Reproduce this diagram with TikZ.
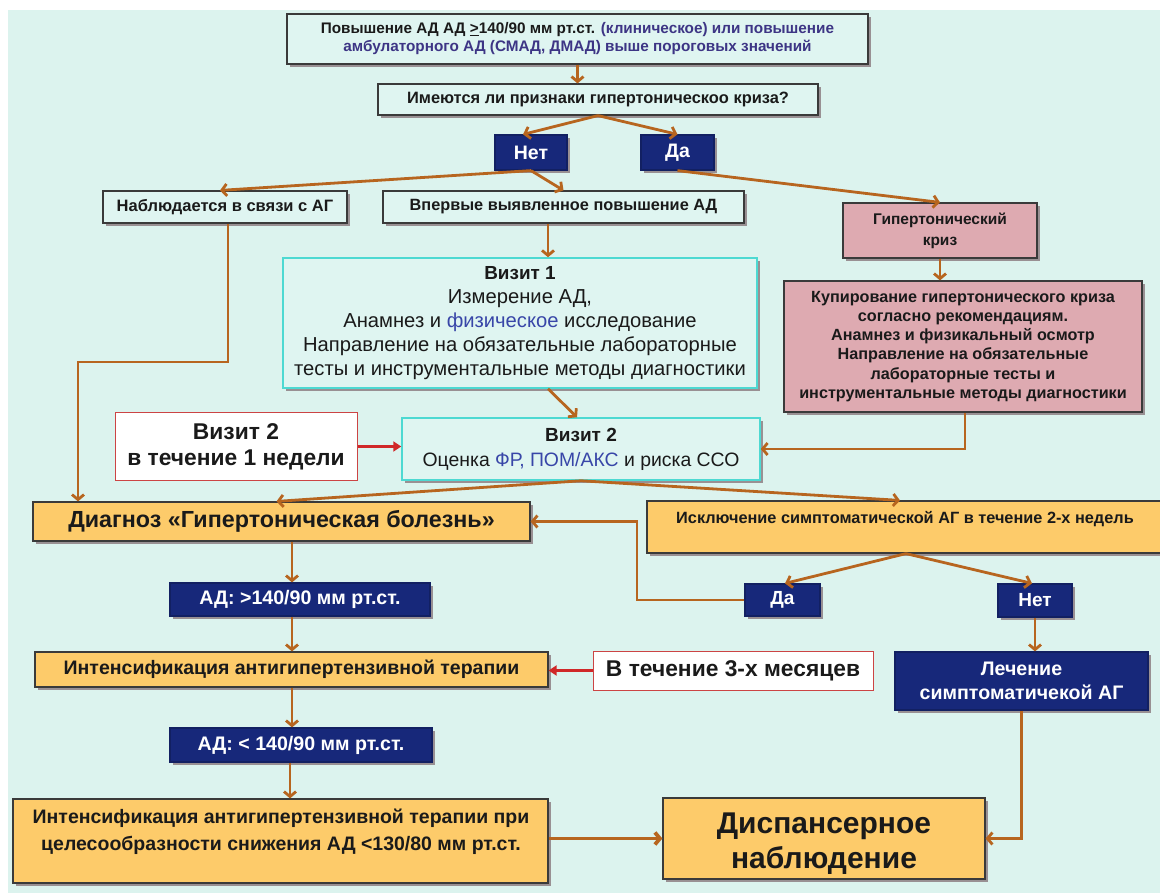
\documentclass[tikz,border=0pt]{standalone}
\usepackage{fontspec}
\setmainfont{Liberation Sans}
\usetikzlibrary{arrows.meta,shadows,calc}
\definecolor{bg}{HTML}{DCF3EE}
\definecolor{mint}{HTML}{DFF5F1}
\definecolor{bordc}{HTML}{3A3A3A}
\definecolor{navy}{HTML}{17287A}
\definecolor{orangef}{HTML}{FDCB6A}
\definecolor{pinkf}{HTML}{DEAAB1}
\definecolor{arrc}{HTML}{B7651F}
\definecolor{cyanc}{HTML}{4DD9D2}
\definecolor{redc}{HTML}{CC4444}
\definecolor{redarrc}{HTML}{D02828}
\definecolor{bluet}{HTML}{3846A8}
\definecolor{purp}{HTML}{3D3585}
\definecolor{txt}{HTML}{1A1A1A}
\definecolor{shadc}{HTML}{8E7F84}
\tikzset{
  box/.style={draw=bordc, line width=1.2pt, fill=mint, inner sep=0pt, align=center, text=txt,
    drop shadow={shadow xshift=3pt, shadow yshift=-3pt, fill=shadc, opacity=0.85}},
  navybox/.style={box, fill=navy, draw=navy!80!black, text=white},
  orbox/.style={box, fill=orangef},
  pinkbox/.style={box, fill=pinkf},
  cyanbox/.style={box, draw=cyanc, line width=1.5pt},
  redbox/.style={draw=redc, line width=1pt, fill=white, inner sep=0pt, align=center, text=txt},
  txtnode/.style={inner sep=0pt, align=center, text=txt},
  arr/.style={draw=arrc, line width=2.8pt, -{Straight Barb[length=5pt,width=12pt]}},
  redarr/.style={draw=redarrc, line width=3pt, -{Triangle[length=8pt,width=10pt]}},
}
\begin{document}
\begin{tikzpicture}[x=1pt,y=-1pt]
\useasboundingbox (0,0) rectangle (1160,893);
\fill[white] (0,0) rectangle (1160,893);
\fill[bg] (8,10) rectangle (1160,893);

% row 1
\node[box, minimum width=581pt, minimum height=50pt, font=\fontsize{15.3}{18}\selectfont\bfseries] (top) at (577.5,39)
 {Повышение АД АД \underline{>}140/90 мм рт.ст. {\color{purp}(клиническое) или повышение}\\
  {\color{purp}амбулаторного АД (СМАД, ДМАД) выше пороговых значений}};
\node[box, minimum width=440pt, minimum height=31pt, font=\fontsize{16.4}{18}\selectfont\bfseries] (q) at (598,99.5)
 {Имеются ли признаки гипертоническоо криза?};
\node[navybox, minimum width=72pt, minimum height=35pt, font=\fontsize{19.5}{20}\selectfont\bfseries] (net1) at (531,152.5) {Нет};
\node[navybox, minimum width=73pt, minimum height=35pt, font=\fontsize{19.5}{20}\selectfont\bfseries] (da1) at (677.5,152.5) {Да};

\node[box, minimum width=244pt, minimum height=32pt, font=\fontsize{16.5}{18}\selectfont\bfseries] (nab) at (225,207) {Наблюдается в связи с АГ};
\node[box, minimum width=361pt, minimum height=32pt, font=\fontsize{16.3}{18}\selectfont\bfseries] (vpe) at (563.5,207) {Впервые выявленное повышение АД};
\node[pinkbox, minimum width=194pt, minimum height=55pt, font=\fontsize{15.5}{21}\selectfont\bfseries] (gk) at (940,230.5) {Гипертонический\\криз};

\node[cyanbox, minimum width=474pt, minimum height=130pt, font=\fontsize{20.2}{24}\selectfont] (v1) at (520,323)
 {\textbf{\fontsize{18.9}{24}\selectfont Визит 1}\\Измерение АД,\\Анамнез и {\color{bluet}физическое} исследование\\Направление на обязательные лабораторные\\тесты и инструментальные методы диагностики};
\node[pinkbox, minimum width=358pt, minimum height=131pt, font=\fontsize{16.2}{19.2}\selectfont\bfseries] (kup) at (963,346.5)
 {Купирование гипертонического криза\\согласно рекомендациям.\\Анамнез и физикальный осмотр\\Направление на обязательные\\лабораторные тесты и\\инструментальные методы диагностики};

\node[redbox, minimum width=242pt, minimum height=67pt, font=\fontsize{22.8}{26}\selectfont\bfseries] (v2l) at (236,446.5) {Визит 2\\в течение 1 недели};
\node[cyanbox, minimum width=358pt, minimum height=62pt, font=\fontsize{19.4}{25}\selectfont] (v2) at (581,449)
 {\textbf{\fontsize{19}{25}\selectfont Визит 2}\\Оценка {\color{bluet}ФР, ПОМ/АКС} и риска ССО};

\node[orbox, minimum width=497pt, minimum height=39pt, font=\fontsize{23.3}{25}\selectfont\bfseries] (diag) at (281.5,521.5) {Диагноз «Гипертоническая болезнь»};
\node[orbox, minimum width=518pt, minimum height=52pt] (excl) at (906,527) {};
\node[txtnode, font=\fontsize{16.3}{18}\selectfont\bfseries] (excltxt) at (905,519) {Исключение симптоматической АГ в течение 2-х недель};

\node[navybox, minimum width=75pt, minimum height=32pt, font=\fontsize{19}{20}\selectfont\bfseries] (da2) at (782.5,600) {Да};
\node[navybox, minimum width=74pt, minimum height=33pt, font=\fontsize{19}{20}\selectfont\bfseries] (net2) at (1035,600.5) {Нет};
\node[navybox, minimum width=260pt, minimum height=33pt, font=\fontsize{19.6}{20}\selectfont\bfseries] (ad1) at (300,599.5) {АД: >140/90 мм рт.ст.};

\node[orbox, minimum width=513pt, minimum height=35pt, font=\fontsize{19.5}{21}\selectfont\bfseries] (int) at (291.5,669.5) {Интенсификация антигипертензивной терапии};
\node[redbox, minimum width=280pt, minimum height=39pt, font=\fontsize{22.8}{25}\selectfont\bfseries] (tri) at (733,670.5) {В течение 3-х месяцев};
\node[navybox, minimum width=253pt, minimum height=58pt, font=\fontsize{19.6}{24}\selectfont\bfseries] (lech) at (1021.5,681) {Лечение\\симптоматичекой АГ};

\node[navybox, minimum width=262pt, minimum height=34pt, font=\fontsize{19.6}{20}\selectfont\bfseries] (ad2) at (301,745) {АД: < 140/90 мм рт.ст.};

\node[orbox, minimum width=535pt, minimum height=84pt] (int2) at (280.5,841) {};
\node[txtnode, font=\fontsize{19.5}{27}\selectfont\bfseries] (int2txt) at (281,832)
 {Интенсификация антигипертензивной терапии при\\целесообразности снижения АД <130/80 мм рт.ст.};
\node[orbox, minimum width=322pt, minimum height=81pt] (disp) at (824,838.5) {};
\node[txtnode, font=\fontsize{30}{35}\selectfont\bfseries] (disptxt) at (824,844) {Диспансерное\\наблюдение};

% connectors
\coordinate (colA) at (292,0);
\coordinate (colB) at (290,0);
\coordinate (bendA) at (78,362);
\coordinate (bendB) at (637,0);
\draw[arr] (top.south) -- (top.south |- q.north);
\draw[arr] (q.south) -- ([xshift=-8pt]net1.north);
\draw[arr] (q.south) -- (da1.north);
\draw[arr] (net1.south) -- ([xshift=-5pt]nab.north);
\draw[arr] (net1.south) -- (vpe.north);
\draw[arr] (da1.south) -- (gk.north);
\draw[arr] ([xshift=-15.5pt]vpe.south) -- ([xshift=-15.5pt]vpe.south |- v1.north);
\draw[arr] (gk.south) -- (gk.south |- kup.north);
\draw[arr] ([xshift=3pt]nab.south) |- (bendA) -- (bendA |- diag.north);
\draw[arr] ([xshift=28pt]v1.south) -- ([xshift=-4pt]v2.north);
\draw[redarr] (v2l.east) -- (v2l.east -| v2.west);
\draw[arr] ([xshift=2pt]kup.south) |- (v2.east);
\draw[arr] (v2.south) -- ([xshift=-5pt]diag.north);
\draw[arr] (v2.south) -- ([xshift=-6pt]excl.north);
\draw[arr] (excl.south) -- ([xshift=2.5pt]da2.north);
\draw[arr] (excl.south) -- ([xshift=-3pt]net2.north);
\draw[arr] (da2.west) -| (bendB |- diag.east) -- (diag.east);
\draw[arr] (net2.south) -- (net2.south |- lech.north);
\draw[arr] (diag.south -| colA) -- (ad1.north -| colA);
\draw[arr] (ad1.south -| colA) -- (int.north -| colA);
\draw[redarr] (tri.west) -- (tri.west -| int.east);
\draw[arr] (int.south -| colA) -- (ad2.north -| colA);
\draw[arr] (ad2.south -| colB) -- (int2.north -| colB);
\draw[arr, line width=3.8pt] (disp.west -| int2.east) -- (disp.west);
\draw[arr] (lech.south) |- (disp.east);
\end{tikzpicture}
\end{document}
